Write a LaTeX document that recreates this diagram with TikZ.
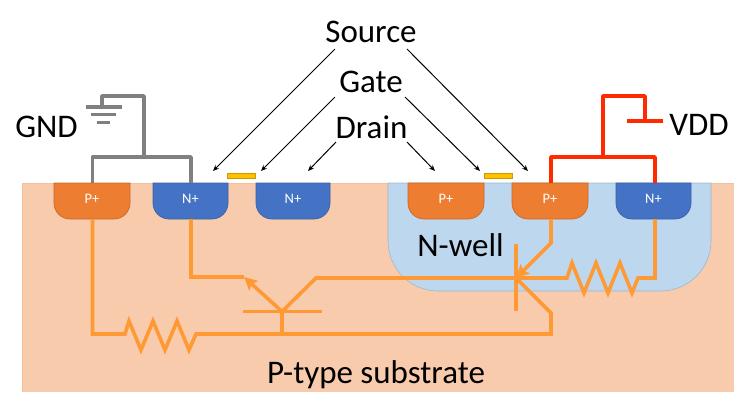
\documentclass[tikz,border=0pt]{standalone}
\usepackage{fontspec}
\setmainfont{Carlito}
\usetikzlibrary{arrows.meta}
\definecolor{subst}{HTML}{F8CBAD}
\definecolor{wellc}{HTML}{BDD7EE}
\definecolor{pplus}{HTML}{ED7D31}
\definecolor{nplus}{HTML}{4472C4}
\definecolor{gatec}{HTML}{FFC000}
\definecolor{wire}{HTML}{FF9933}
\definecolor{gnd}{HTML}{808080}
\definecolor{vdd}{HTML}{FF2A00}
\tikzset{
  diff/.style={line width=0.7pt},
  pdiff/.style={diff,fill=pplus,draw=pplus!85!black},
  ndiff/.style={diff,fill=nplus,draw=nplus!85!black},
  dlabel/.style={text=white,font=\fontsize{14.5}{14.5}\selectfont,inner sep=0pt},
  biglabel/.style={font=\fontsize{33}{33}\selectfont,inner sep=0pt,text=black,anchor=base},
  gatebar/.style={fill=gatec,draw=gatec!80!black,line width=0.7pt},
  gwire/.style={gnd,line width=3.6pt,line join=round},
  rwire/.style={vdd,line width=3.8pt,line join=round},
  owire/.style={wire,line width=3.6pt,line join=miter},
  pointer/.style={black,line width=1pt,-{Stealth[length=6pt,width=5pt]}},
  emitter/.style={owire,-{Stealth[length=13pt,width=13pt,inset=2.5pt]}}
}
\newcommand{\diffshape}[3]{\draw[#1] (#2,183) -- (#2,203) .. controls (#2,211.84) and (#2+7.16,219) .. (#2+16,219) -- (#3-16,219) .. controls (#3-7.16,219) and (#3,211.84) .. (#3,203) -- (#3,183) -- cycle;}
\begin{document}
\begin{tikzpicture}[x=1pt,y=-1pt]
\useasboundingbox (0,0) rectangle (734,413);
% substrate and well
\fill[subst] (22,183) rectangle (734,392);
\draw[subst!85!pplus,line width=0.6pt] (734,183) -- (22,183) -- (22,392);
\draw[fill=wellc,draw=wellc!85!black,line width=0.6pt] (388,183) -- (388,241) .. controls (388,268.6) and (410.4,291) .. (438,291) -- (661,291) .. controls (688.6,291) and (711,268.6) .. (711,241) -- (711,183) -- cycle;
% diffusions
\diffshape{pdiff}{54}{130}
\diffshape{ndiff}{153}{228}
\diffshape{ndiff}{256}{330}
\diffshape{pdiff}{408}{484}
\diffshape{pdiff}{512}{588}
\diffshape{ndiff}{616}{691}
\node[dlabel] (p1) at (92,199) {P+};
\node[dlabel] (n1) at (190.5,199) {N+};
\node[dlabel] (n2) at (293,199) {N+};
\node[dlabel] (p2) at (446,199) {P+};
\node[dlabel] (p3) at (550,199) {P+};
\node[dlabel] (n3) at (653.5,199) {N+};
% gates
\node[gatebar,minimum width=28pt,minimum height=5.5pt,inner sep=0pt] (g1) at (241,176) {};
\node[gatebar,minimum width=28pt,minimum height=5.5pt,inner sep=0pt] (g2) at (498,176) {};
% labels
\node[biglabel] (source) at (371,42) {Source};
\node[biglabel] (gate) at (371,92) {Gate};
\node[biglabel] (drain) at (371.5,138) {Drain};
\node[biglabel] (gndl) at (46.5,137) {GND};
\node[biglabel] (vddl) at (699,135) {VDD};
\node[biglabel] (nwell) at (460.5,256) {N-well};
\node[biglabel] (psub) at (376,383) {P-type substrate};
% pointers
\coordinate (s1a) at (335,49); \coordinate (s1b) at (213,171);
\coordinate (g1a) at (335,97); \coordinate (g1b) at (261,171);
\coordinate (d1a) at (336,142); \coordinate (d1b) at (308,171);
\coordinate (d2a) at (407,142); \coordinate (d2b) at (435,171);
\coordinate (g2a) at (405,97); \coordinate (g2b) at (480,171);
\coordinate (s2a) at (407,49); \coordinate (s2b) at (528,171);
\draw[pointer] (s1a) -- (s1b);
\draw[pointer] (g1a) -- (g1b);
\draw[pointer] (d1a) -- (d1b);
\draw[pointer] (d2a) -- (d2b);
\draw[pointer] (g2a) -- (g2b);
\draw[pointer] (s2a) -- (s2b);
% GND wiring
\coordinate (gp) at (92.5,183); \coordinate (gn) at (191,183);
\coordinate (gj) at (144,157); \coordinate (gt) at (102,107);
\draw[gwire] (gp) -- (92.5,157) -- (191,157) -- (gn);
\draw[gwire] (gj) -- (144,96) -- (102,96) -- (gt);
\coordinate (b1a) at (86,107); \coordinate (b1b) at (121.5,107);
\coordinate (b2a) at (91,114.5); \coordinate (b2b) at (115.5,114.5);
\coordinate (b3a) at (97,122.5); \coordinate (b3b) at (110,122.5);
\draw[gnd,line width=3.5pt] (b1a) -- (b1b);
\draw[gnd,line width=3.5pt] (b2a) -- (b2b);
\draw[gnd,line width=3.5pt] (b3a) -- (b3b);
% VDD wiring
\coordinate (rp) at (551,183); \coordinate (rn) at (655,183);
\coordinate (rj) at (603,157); \coordinate (rt) at (645,121);
\draw[rwire] (rp) -- (551,157) -- (655,157) -- (rn);
\draw[rwire] (rj) -- (603,96) -- (645,96) -- (rt);
\coordinate (ta) at (627,121); \coordinate (tb) at (663,121);
\draw[rwire] (ta) -- (tb);
% parasitic circuit
\coordinate (pb) at (92.5,219); \coordinate (nb) at (191,219);
\coordinate (ppb) at (551,219); \coordinate (nnb) at (655,219);
\coordinate (npnb) at (282,311.5); \coordinate (npne) at (244,277);
\coordinate (pnpb) at (516,278);
\draw[owire] (pb) -- (92.5,334) -- (125,334) -- (129,321) -- (141,350) -- (153,321) -- (165,350) -- (177,321) -- (189,350) -- (196,334) -- (551,334) -- (551,313) -- (pnpb);
\draw[owire] (nb) -- (191,277) -- (npne);
\draw[emitter] (npnb) -- (npne);
\draw[owire] (243,311.5) -- (322,311.5);
\draw[owire] (npnb) -- (282,334);
\draw[owire] (npnb) -- (316,278) -- (567,278) -- (572,263) -- (584,293) -- (596,263) -- (608,293) -- (620,263) -- (632,293) -- (638,278) -- (655,278) -- (nnb);
\draw[owire] (516,244) -- (516,311);
\draw[emitter] (ppb) -- (551,243) -- (pnpb);
\end{tikzpicture}
\end{document}
